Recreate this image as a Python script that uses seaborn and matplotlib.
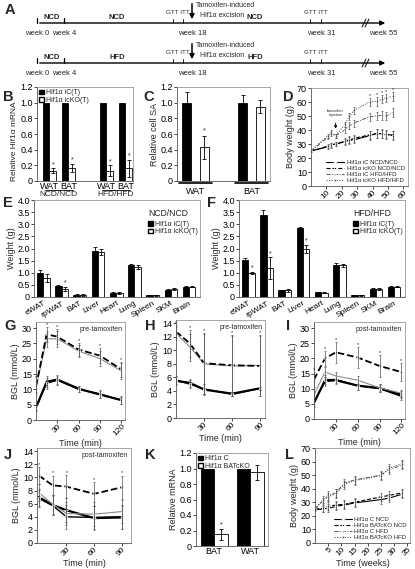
import matplotlib
matplotlib.use("Agg")
import matplotlib.pyplot as plt
from matplotlib.patches import Patch
from matplotlib.ticker import FuncFormatter
import numpy as np
import pandas as pd
import seaborn as sns

W, H = 415, 569

# ── data ──────────────────────────────────────────────────────────────────────
GENO_I = ["Hif1\u03b1 iC(T)", "Hif1\u03b1 icKO(T)"]

# B: relative Hif1a mRNA
b_tissue = ["WAT", "BAT", "WAT", "BAT"]
b_diet = ["NCD/NCD", "NCD/NCD", "HFD/HFD", "HFD/HFD"]
b_ic = [1.0, 1.0, 1.0, 1.0]
b_icko = [0.13, 0.17, 0.13, 0.16]
b_icko_err = [0.03, 0.05, 0.07, 0.11]

# C: relative cell surface area
c_tissue = ["WAT", "BAT"]
c_ic = [1.0, 1.0]
c_ic_err = [0.13, 0.10]
c_icko = [0.43, 0.95]
c_icko_err = [0.15, 0.08]

# D: body weight over weeks
d_weeks = [0, 11, 13, 16, 22, 25, 28, 38, 43, 46, 49, 53]
d_ic_ncd = [25, 28, 29, 30, 31.5, 32.5, 33, 36, 37.5, 37, 36.5, 36.5]
d_icko_ncd = [25, 28.5, 29.5, 30, 32, 33, 34, 36.5, 37.5, 37.5, 37, 36]
d_ic_hfd = [25, 35, 37, 36, 40, 43, 45, 49.5, 50, 50.5, 50, 52.5]
d_icko_hfd = [25, 36, 38.5, 36, 44, 50, 54, 60, 60.5, 62, 63, 64]
d_err = [0.5, 1.5, 1.5, 1.5, 2.0, 2.5, 2.5, 3.0, 3.0, 3.0, 3.0, 3.0]

# E/F: organ weights
organs = ["eWAT", "rpWAT", "BAT", "Liver", "Heart", "Lung", "Spleen", "SKM", "Brain"]
e_ic = [1.0, 0.47, 0.10, 1.88, 0.17, 1.32, 0.07, 0.30, 0.43]
e_ic_err = [0.10, 0.04, 0.04, 0.20, 0.03, 0.06, 0.01, 0.03, 0.01]
e_icko = [0.78, 0.33, 0.10, 1.85, 0.17, 1.25, 0.07, 0.33, 0.43]
e_icko_err = [0.15, 0.08, 0.04, 0.12, 0.03, 0.08, 0.01, 0.03, 0.01]
f_ic = [1.52, 3.38, 0.27, 2.85, 0.20, 1.32, 0.07, 0.32, 0.43]
f_ic_err = [0.10, 0.22, 0.03, 0.05, 0.02, 0.10, 0.01, 0.05, 0.01]
f_icko = [0.98, 1.18, 0.27, 1.98, 0.17, 1.30, 0.07, 0.33, 0.43]
f_icko_err = [0.05, 0.45, 0.05, 0.15, 0.02, 0.08, 0.01, 0.03, 0.01]

# G-J: blood glucose (GTT 0-120 min, ITT 0-90 min)
gtt_t = [0, 15, 30, 60, 90, 120]
itt_t = [0, 15, 30, 60, 90]
g_ic_ncd = [4.0, 12.5, 13.2, 10.2, 8.3, 6.5]
g_icko_ncd = [4.3, 12.0, 13.0, 10.0, 8.5, 6.4]
g_ic_hfd = [10.5, 26.5, 26.5, 22.5, 20.0, 16.0]
g_icko_hfd = [11.0, 28.0, 27.2, 23.0, 21.0, 16.5]
g_err_ncd = [1.0, 1.8, 1.5, 1.0, 1.2, 1.2]
g_err_hfd = [2.0, 2.5, 2.5, 2.0, 2.5, 2.5]

h_ic_ncd = [5.5, 5.2, 4.2, 3.6, 4.4]
h_icko_ncd = [5.6, 5.0, 4.3, 3.5, 4.4]
h_ic_hfd = [12.5, 10.5, 8.0, 7.7, 7.8]
h_icko_hfd = [12.8, 11.0, 8.1, 7.8, 7.7]
h_err_ncd = [0.6, 0.6, 0.8, 0.3, 0.2]
h_err_hfd = [1.0, 2.0, 4.5, 4.5, 4.5]

i_ic_ncd = [5.5, 12.5, 12.8, 11.0, 10.2, 8.0]
i_icko_ncd = [5.0, 13.0, 13.0, 11.0, 10.0, 7.5]
i_ic_hfd = [8.0, 15.5, 14.2, 12.8, 10.3, 8.5]
i_icko_hfd = [13.0, 20.0, 22.0, 20.3, 17.5, 15.5]
i_err_ncd = [1.0, 1.5, 1.2, 1.5, 1.2, 1.2]
i_err_hfd = [2.5, 2.5, 3.5, 3.5, 3.5, 3.0]

j_ic_ncd = [7.0, 5.8, 5.0, 3.8, 3.9]
j_icko_ncd = [6.8, 5.7, 4.0, 3.9, 4.0]
j_ic_hfd = [7.7, 5.9, 4.5, 4.4, 4.8]
j_icko_hfd = [10.3, 8.8, 8.6, 7.5, 8.5]
j_err = [1.3, 1.5, 1.8, 1.8, 1.8]

# K: BAT-specific knockout mRNA
k_tissue = ["BAT", "WAT"]
k_c = [1.0, 1.0]
k_ko = [0.15, 0.95]
k_ko_err = [0.07, 0.10]

# L: body weight, BAT knockout
l_weeks = [0, 3, 5, 8, 11, 15, 25, 28, 33]
l_c_ncd = [24.5, 25, 25.5, 27, 28, 29.5, 32, 33, 36]
l_ko_ncd = [25, 25.5, 27, 28, 28.5, 30, 34, 35, 37]
l_c_hfd = [25, 31, 35, 37, 44, 46.5, 50, 54, 57.5]
l_ko_hfd = [25, 32, 34, 36.5, 43, 46, 49.5, 55, 58.5]
l_err = [1.0, 2.5, 3.0, 3.0, 3.0, 3.0, 3.0, 3.0, 3.0]

# ── style ─────────────────────────────────────────────────────────────────────
sns.set_style("ticks")
plt.rcParams["font.family"] = ["Liberation Sans", "DejaVu Sans"]
plt.rcParams.update({
    "axes.linewidth": 0.6, "axes.edgecolor": "#999999",
    "xtick.major.size": 2, "ytick.major.size": 2,
    "xtick.major.width": 0.5, "ytick.major.width": 0.5,
    "xtick.major.pad": 1, "ytick.major.pad": 1,
    "xtick.labelsize": 6.5, "ytick.labelsize": 6.5,
    "axes.labelsize": 6.5, "axes.labelpad": 1,
})

fig = plt.figure(figsize=(W / 100, H / 100), dpi=100)
ax0 = fig.add_axes([0, 0, 1, 1])
ax0.set_xlim(0, W)
ax0.set_ylim(H, 0)
ax0.axis("off")


def px_axes(l, t, r, b):
    return fig.add_axes([l / W, 1 - b / H, (r - l) / W, (b - t) / H])


def dec(ax):
    ax.yaxis.set_major_formatter(FuncFormatter(lambda v, p: "0" if v == 0 else f"{v:.1f}"))


def frame(ax):
    ax.spines["left"].set_color("#555555")
    ax.spines["bottom"].set_color("#555555")
    ax.tick_params(colors="black")


def rot_ticks(ax, size=6):
    ax.tick_params(axis="x", labelsize=size, pad=0)
    for lab in ax.get_xticklabels():
        lab.set_rotation(45)
        lab.set_ha("right")
        lab.set_rotation_mode("anchor")


def bar_panel(ax, xpos, ic, ic_err, ko, ko_err, width, gap=0.0):
    n = len(xpos)
    df = pd.DataFrame({"x": list(xpos) * 2, "v": list(ic) + list(ko),
                       "g": [GENO_I[0]] * n + [GENO_I[1]] * n})
    sns.barplot(data=df, x="x", y="v", hue="g", native_scale=True,
                palette=["black", "white"], edgecolor="black", linewidth=0.6,
                width=width, gap=gap, errorbar=None, ax=ax, legend=False)
    off = width / 4
    xs = np.asarray(xpos, dtype=float)
    for sx, vals, errs in ((xs - off, ic, ic_err), (xs + off, ko, ko_err)):
        if errs is None:
            continue
        ax.errorbar(sx, vals, yerr=errs, fmt="none", ecolor="black",
                    elinewidth=0.6, capsize=1.5, capthick=0.6)
    ax.set_xlabel("")
    ax.set_ylabel("")
    frame(ax)


def star(ax, x, y, size=5):
    ax.text(x, y, "*", ha="center", va="bottom", fontsize=size)


def bar_legend(ax, labels, loc, title=None, anchor=None):
    kw = {} if anchor is None else {"bbox_to_anchor": anchor}
    leg = ax.legend(handles=[Patch(facecolor="black", edgecolor="black", label=labels[0]),
                             Patch(facecolor="white", edgecolor="black", label=labels[1])],
                    title=title, loc=loc, fontsize=5, title_fontsize=6.2,
                    frameon=False, handlelength=0.7, handleheight=0.6,
                    handletextpad=0.2, labelspacing=0.05, borderaxespad=0.15,
                    borderpad=0.2, **kw)
    leg._legend_box.align = "left"
    leg._legend_box.sep = 2
    return leg


LINE_GLU = {
    "ic_ncd": dict(color="black", lw=1.6, ls="-", marker="+", ms=3),
    "icko_ncd": dict(color="black", lw=1.0, ls="-", marker="s", ms=1.5),
    "ic_hfd": dict(color="#8a8a8a", lw=0.8, ls="-", marker="^", ms=1.5),
    "icko_hfd": dict(color="black", lw=1.3, ls="--", marker="o", ms=1.5),
}
LINE_BW = {
    "ic_ncd": dict(color="black", lw=0.8, ls="-", marker="+", ms=3),
    "icko_ncd": dict(color="black", lw=0.8, ls="--", marker="s", ms=1.8),
    "ic_hfd": dict(color="#555555", lw=0.7, ls=(0, (4, 1.5, 1, 1.5)), marker="^", ms=1.8),
    "icko_hfd": dict(color="#333333", lw=0.7, ls=":", marker="o", ms=1.8),
}


def line_panel(ax, t, series, errs, styles, labels=None):
    for i, (key, vals) in enumerate(series):
        st = styles[key]
        sns.lineplot(x=t, y=vals, ax=ax, color=st["color"], linewidth=st["lw"],
                     linestyle=st["ls"], marker=st["marker"], markersize=st["ms"],
                     markeredgewidth=0.6, label=None if labels is None else labels[i])
        ax.errorbar(t, vals, yerr=errs[i], fmt="none", ecolor="#555555",
                    elinewidth=0.5, capsize=1.0, capthick=0.5)
    frame(ax)


# ── A: timelines ──────────────────────────────────────────────────────────────
tl_weeks = [0, 4, 18, 31, 55]
tl_x = [37, 64, 192, 321, 383]
tl_diets = [["NCD", "NCD", "NCD"], ["NCD", "HFD", "HFD"]]
for row_y, diets in zip([23, 63], tl_diets):
    ax0.annotate("", xy=(388, row_y), xytext=(37, row_y),
                 arrowprops=dict(arrowstyle="-|>", lw=1.0, color="black", mutation_scale=7))
    for wk, xp in zip(tl_weeks, tl_x):
        ax0.text(xp, row_y + 10, f"week {wk}", ha="center", va="center", fontsize=5.5)
    for xp in (37, 64):
        ax0.plot([xp, xp], [row_y - 5, row_y], color="black", lw=0.9)
    for xp in (173, 183, 310, 321):
        ax0.plot([xp, xp], [row_y - 4, row_y], color="black", lw=0.6)
    for xp, d in zip((52, 117, 255), diets):
        ax0.text(xp, row_y - 6, d, ha="center", va="center", fontsize=5.5, fontweight="bold")
    for xp in (178, 316):
        ax0.text(xp, row_y - 11, "GTT ITT", ha="center", va="center", fontsize=4.5)
    ax0.annotate("", xy=(192, row_y - 1), xytext=(192, row_y - 22),
                 arrowprops=dict(arrowstyle="-|>", lw=1.1, color="black", mutation_scale=7))
    ax0.text(196, row_y - 18, "Tamoxifen-induced", ha="left", va="center", fontsize=5)
    ax0.text(222, row_y - 8, "Hif1\u03b1 excision", ha="center", va="center", fontsize=5)
    for dx in (0, 3):
        ax0.plot([362 + dx, 366 + dx], [row_y + 4, row_y - 4], color="black", lw=0.7)

for letter, (lx, ly) in {"A": (5, 10), "B": (3, 97), "C": (143, 97), "D": (283, 97),
                         "E": (3, 203), "F": (207, 203), "G": (4, 326), "H": (145, 326),
                         "I": (286, 326), "J": (4, 455), "K": (145, 455),
                         "L": (285, 455)}.items():
    ax0.text(lx, ly, letter, ha="left", va="center", fontsize=10.5, fontweight="bold")

# ── B ─────────────────────────────────────────────────────────────────────────
axB = px_axes(37, 87, 133, 181)
b_pos = [b_diet.index(d) // 2 * 3 + i % 2 for i, d in enumerate(b_diet)]
bar_panel(axB, b_pos, b_ic, None, b_icko, b_icko_err, width=0.72)
axB.set_xlim(-0.65, 4.4)
axB.set_ylim(0, 1.2)
axB.set_yticks(np.arange(0, 1.21, 0.2))
dec(axB)
axB.set_xticks(b_pos)
axB.set_xticklabels(b_tissue, fontsize=6.5)
axB.tick_params(axis="x", length=0, pad=1)
axB.set_ylabel("Relative Hif1\u03b1 mRNA", fontsize=6)
axB.yaxis.set_label_coords(-0.2, 0.42)
for p, v, e in zip(b_pos, b_icko, b_icko_err):
    star(axB, p + 0.18, v + e, size=5)
for k, d in enumerate(["NCD/NCD", "HFD/HFD"]):
    cx = 3 * k + 0.5
    axB.plot([cx - 0.75, cx + 0.75], [-0.1, -0.1], color="black", lw=0.6,
             clip_on=False, transform=axB.get_xaxis_transform())
    axB.text(cx, -0.11, d, ha="center", va="top", fontsize=6,
             transform=axB.get_xaxis_transform())
bar_legend(axB, GENO_I, "upper left")

# ── C ─────────────────────────────────────────────────────────────────────────
axC = px_axes(177, 87, 270, 181)
c_pos = list(range(len(c_tissue)))
bar_panel(axC, c_pos, c_ic, c_ic_err, c_icko, c_icko_err, width=0.64, gap=0.5)
axC.set_xlim(-0.33, 1.33)
axC.set_ylim(0, 1.2)
axC.set_yticks(np.arange(0, 1.21, 0.2))
dec(axC)
axC.set_xticks(c_pos)
axC.set_xticklabels(c_tissue, fontsize=6.5)
axC.tick_params(axis="x", length=0, pad=4)
axC.set_ylabel("Relative cell SA", fontsize=6.5)
for p in c_pos:
    axC.plot([p - 0.3, p + 0.3], [-0.02, -0.02], color="black", lw=1.2,
             clip_on=False, transform=axC.get_xaxis_transform())
star(axC, c_pos[0] + 0.16, c_icko[0] + c_icko_err[0] + 0.01)

# ── D ─────────────────────────────────────────────────────────────────────────
axD = px_axes(311, 88, 408, 186)
line_panel(axD, d_weeks,
           [("ic_ncd", d_ic_ncd), ("icko_ncd", d_icko_ncd),
            ("ic_hfd", d_ic_hfd), ("icko_hfd", d_icko_hfd)],
           [d_err] * 4, LINE_BW,
           labels=["Hif1\u03b1 iC NCD/NCD", "Hif1\u03b1 icKO NCD/NCD",
                   "Hif1\u03b1 iC HFD/HFD", "Hif1\u03b1 icKO HFD/HFD"])
axD.set_xlim(0, 63)
axD.set_ylim(0, 70)
axD.set_xticks(range(10, 61, 10))
axD.set_yticks(range(0, 71, 10))
rot_ticks(axD)
axD.set_xlabel("Time (weeks)", fontsize=6.5, labelpad=0)
axD.set_ylabel("Body weight (g)", fontsize=6.5)
axD.legend(loc="lower right", fontsize=4.3, frameon=False, handlelength=3.0,
           labelspacing=0.1, borderaxespad=0.15, handletextpad=0.4)
for x, v, e in zip(d_weeks[7:], d_icko_hfd[7:], d_err[7:]):
    star(axD, x, v + e, size=4)
axD.annotate("tamoxifen\ninjection", xy=(16, 39), xytext=(16, 52), fontsize=2.8,
             ha="center", va="center", linespacing=0.9,
             arrowprops=dict(arrowstyle="-|>", lw=0.6, color="black", mutation_scale=4))

# ── E / F ─────────────────────────────────────────────────────────────────────
for box, ic, ic_err, ko, ko_err, diet, stars in (
        ((34, 200, 200, 297), e_ic, e_ic_err, e_icko, e_icko_err, "NCD/NCD", [1]),
        ((239, 200, 405, 297), f_ic, f_ic_err, f_icko, f_icko_err, "HFD/HFD", [0, 1, 3])):
    ax = px_axes(*box)
    pos = list(range(len(organs)))
    bar_panel(ax, pos, ic, ic_err, ko, ko_err, width=0.7)
    ax.set_xlim(-0.52, 8.6)
    ax.set_ylim(0, 4.0)
    ax.set_yticks(np.arange(0, 4.01, 0.5))
    dec(ax)
    ax.set_xticks(pos)
    ax.set_xticklabels(organs, rotation=30, ha="right", rotation_mode="anchor", fontsize=6)
    ax.tick_params(axis="x", length=0, pad=2)
    ax.set_ylabel("Weight (g)", fontsize=6.5)
    for s in stars:
        star(ax, s + 0.18, ko[s] + ko_err[s] + 0.02, size=5)
    bar_legend(ax, GENO_I, "upper right", title=diet, anchor=(1.0, 0.93))

# ── G-J: glucose tolerance / insulin tolerance ────────────────────────────────
for box, t, data, errs, tag, ylim, ystep, xlim in (
        ((36, 322, 125, 420), gtt_t, [g_ic_ncd, g_icko_ncd, g_ic_hfd, g_icko_hfd],
         [g_err_ncd, g_err_ncd, g_err_hfd, g_err_hfd], "pre-tamoxifen", 32, 5, (0, 125)),
        ((176, 320, 265, 418), itt_t, [h_ic_ncd, h_icko_ncd, h_ic_hfd, h_icko_hfd],
         [h_err_ncd, h_err_ncd, h_err_hfd, h_err_hfd], "pre-tamoxifen", 14.5, 2, (0, 95)),
        ((314, 322, 405, 419), gtt_t, [i_ic_ncd, i_icko_ncd, i_ic_hfd, i_icko_hfd],
         [i_err_ncd, i_err_ncd, i_err_ncd, i_err_hfd], "post-tamoxifen", 32, 5, (0, 125)),
        ((37, 448, 131, 543), itt_t, [j_ic_ncd, j_icko_ncd, j_ic_hfd, j_icko_hfd],
         [j_err] * 4, "post-tamoxifen", 14.5, 2, (-2, 100))):
    ax = px_axes(*box)
    line_panel(ax, t, list(zip(["ic_ncd", "icko_ncd", "ic_hfd", "icko_hfd"], data)),
               errs, LINE_GLU)
    ax.set_xlim(*xlim)
    ax.set_ylim(0, ylim)
    ax.set_yticks(np.arange(0, ylim, ystep))
    ax.set_xticks([x for x in t if x >= 30])
    rot_ticks(ax)
    ax.set_xlabel("Time (min)", fontsize=6.5)
    ax.set_ylabel("BGL (mmol/L)", fontsize=6.5)
    ax.text(0.97, 0.96, tag, transform=ax.transAxes, ha="right", va="top", fontsize=5)
    for x, v, e in zip(t, data[3], errs[3]):
        star(ax, x, v + e, size=4)

# ── K ─────────────────────────────────────────────────────────────────────────
axK = px_axes(196, 453, 268, 546)
k_pos = list(range(len(k_tissue)))
bar_panel(axK, k_pos, k_c, None, k_ko, k_ko_err, width=0.75)
axK.set_xlim(-0.5, 1.5)
axK.set_ylim(0, 1.2)
axK.set_yticks(np.arange(0, 1.21, 0.2))
dec(axK)
axK.set_xticks(k_pos)
axK.set_xticklabels(k_tissue, fontsize=6.5)
axK.tick_params(axis="x", length=0, pad=1)
axK.set_ylabel("Relative mRNA", fontsize=6.5)
star(axK, k_pos[0] + 0.19, k_ko[0] + k_ko_err[0] + 0.01)
bar_legend(axK, ["Hif1\u03b1 C", "Hif1\u03b1 BATcKO"], "upper left")

# ── L ─────────────────────────────────────────────────────────────────────────
axL = px_axes(315, 448, 410, 543)
line_panel(axL, l_weeks,
           [("ic_ncd", l_c_ncd), ("icko_ncd", l_ko_ncd),
            ("ic_hfd", l_c_hfd), ("icko_hfd", l_ko_hfd)],
           [l_err] * 4, LINE_BW,
           labels=["Hif1\u03b1 C NCD", "Hif1\u03b1 BATcKO NCD",
                   "Hif1\u03b1 C HFD", "Hif1\u03b1 BATcKO HFD"])
axL.set_xlim(0, 36)
axL.set_ylim(0, 70)
axL.set_xticks(range(5, 36, 5))
axL.set_yticks(range(0, 71, 10))
rot_ticks(axL)
axL.set_xlabel("Time (weeks)", fontsize=6.5)
axL.set_ylabel("Body weight (g)", fontsize=6.5)
axL.legend(loc="lower right", fontsize=4.3, frameon=False, handlelength=3.0,
           labelspacing=0.1, borderaxespad=0.15, handletextpad=0.4)

fig.savefig("out.png", dpi=100)
